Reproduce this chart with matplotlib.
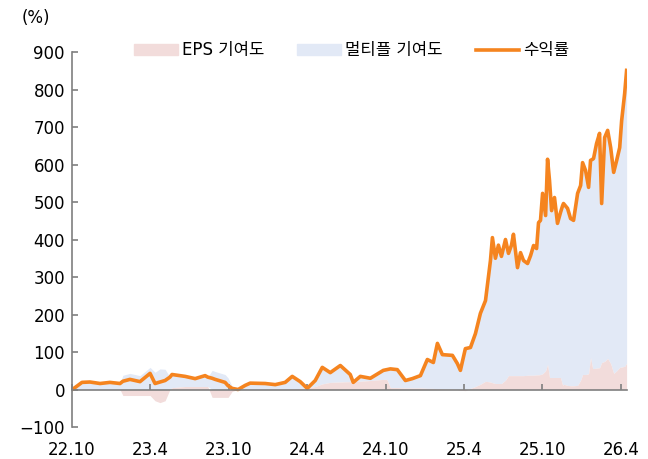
import numpy as np
import matplotlib
matplotlib.use('Agg')
import matplotlib.pyplot as plt
from matplotlib.patches import Patch
from matplotlib.lines import Line2D

plt.rcParams['font.family'] = ['DejaVu Sans', 'Noto Sans CJK KR']

# months since 2022.10
months = [0, 0.23, 0.77, 1.38, 2.15, 2.91, 3.68, 3.9, 4.44, 5.21, 5.98, 6.36, 6.74, 7.13, 7.5,
          7.66, 8.66, 9.43, 10.19, 10.4, 10.73, 10.96, 11.72, 11.95, 12.26, 12.72, 13.26, 13.64,
          14.79, 15.56, 16.32, 16.86, 17.47, 18.01, 18.62, 19.16, 19.77, 20.54, 21.30, 21.53,
          22.07, 22.84, 23.83, 24.10, 24.37, 24.90, 25.52, 26.05, 26.67, 27.20, 27.66, 27.97,
          28.35, 29.12, 29.50, 29.73, 30.11, 30.50, 30.88, 31.26, 31.65, 32.03,
          32.18, 32.41, 32.64, 32.87, 33.18, 33.41, 33.64, 33.79, 34.10, 34.33, 34.56, 34.87,
          35.10, 35.33, 35.56, 35.71, 35.86, 36.02,
          36.25, 36.40, 36.55, 36.71, 36.93, 37.16, 37.39, 37.55, 37.62, 37.93, 38.16, 38.39,
          38.70, 38.93, 39.08, 39.31, 39.54, 39.69, 39.85, 39.92, 40.15, 40.38, 40.54, 40.77,
          41.00, 41.23, 41.46, 41.69, 41.92, 42.07, 42.30, 42.45]

# 수익률 (%)
ret = [0, 5, 19, 20, 16, 19, 16, 22, 27, 21, 43, 16, 20, 24, 33,
       40, 35, 29, 37, 33, 30, 27, 19, 10, 3, 0, 11, 17,
       16, 13, 19, 35, 21, 3, 24, 59, 45, 64, 40, 19,
       35, 30, 51, 53, 55, 53, 24, 29, 37, 80, 72, 123,
       93, 91, 69, 51, 109, 112, 149, 203, 237, 344,
       405, 350, 385, 355, 400, 363, 385, 414, 325, 365, 344, 336,
       357, 384, 376, 445, 451, 523,
       464, 614, 557, 477, 512, 443, 472, 490, 496, 483, 456, 451,
       523, 544, 605, 584, 539, 611, 614, 616, 656, 683, 496, 672,
       691, 645, 579, 611, 645, 717, 789, 851]

# EPS 기여도 (%)
eps = [0, 0, 0, 0, 0, 0, 0, -16, -16, -16, -16, -30, -35, -30, 0,
       5, 8, 8, 8, 8, -21, -21, -21, -21, -5, 0, 0, 0,
       1, 1, 2, 2, 3, 4, 8, 15, 19, 20, 21, 21,
       22, 24, 27, 27, 5, 5, 4, 4, 4, 3, 3, 2,
       2, 1, 0, -2, -3, 3, 8, 14, 22, 20,
       18, 16, 16, 16, 25, 37, 37, 37, 37, 37, 37, 38,
       38, 38, 39, 39, 40, 42,
       50, 67, 32, 32, 32, 32, 32, 11, 14, 11, 10, 10,
       11, 25, 40, 40, 42, 85, 56, 56, 57, 58, 72, 75,
       83, 69, 43, 50, 59, 60, 62, 70]

tick_pos = [0, 6, 12, 18, 24, 30, 36, 42]
tick_labels = ['22.10', '23.4', '23.10', '24.4', '24.10', '25.4', '25.10', '26.4']

x = np.array(months)
ret = np.array(ret, dtype=float)
eps = np.array(eps, dtype=float)
mult = ret - eps  # 멀티플 기여도
base = np.clip(eps, 0, None)

c_eps = '#F2DCDB'
c_mult = '#E2E9F6'
c_ret = '#F5841F'
c_axis = '#7F7F7F'

fig = plt.figure(figsize=(6.48, 4.59), dpi=100)
ax = fig.add_axes([0.111, 0.0697, 0.857, 0.817])

ax.fill_between(x, base, base + mult, color=c_mult, lw=0)
ax.fill_between(x, 0, eps, color=c_eps, lw=0)
ax.plot(x, ret, color=c_ret, lw=2.6, solid_joinstyle='round')

ax.set_xlim(0, 42.5)
ax.set_ylim(-100, 900)
ax.set_yticks(range(-100, 901, 100))
ax.set_yticklabels(['\u2212100'] + [str(v) for v in range(0, 901, 100)])
ax.set_xticks(tick_pos)
ax.set_xticklabels(tick_labels)

for s in ['top', 'right']:
    ax.spines[s].set_visible(False)
ax.spines['bottom'].set_position(('data', 0))
ax.spines['bottom'].set_color(c_axis)
ax.spines['left'].set_color(c_axis)
ax.spines['bottom'].set_linewidth(1.2)
ax.spines['left'].set_linewidth(1.2)
ax.tick_params(axis='y', direction='in', length=4, color=c_axis, width=1.2, labelsize=12, pad=5)
ax.tick_params(axis='x', direction='in', length=4, color=c_axis, width=1.2, labelsize=12, pad=37)

fig.text(0.034, 0.96, '(%)', fontsize=12, va='center', ha='left')

handles = [Patch(color=c_eps), Patch(color=c_mult), Line2D([], [], color=c_ret, lw=2.6)]
labels = ['EPS 기여도', '멀티플 기여도', '수익률']
fig.legend(handles, labels, loc='center', bbox_to_anchor=(0.543, 0.89), ncol=3, frameon=False,
           fontsize=12, handlelength=2.6, handletextpad=0.25, columnspacing=2.0)

fig.savefig('out.png', dpi=100)
